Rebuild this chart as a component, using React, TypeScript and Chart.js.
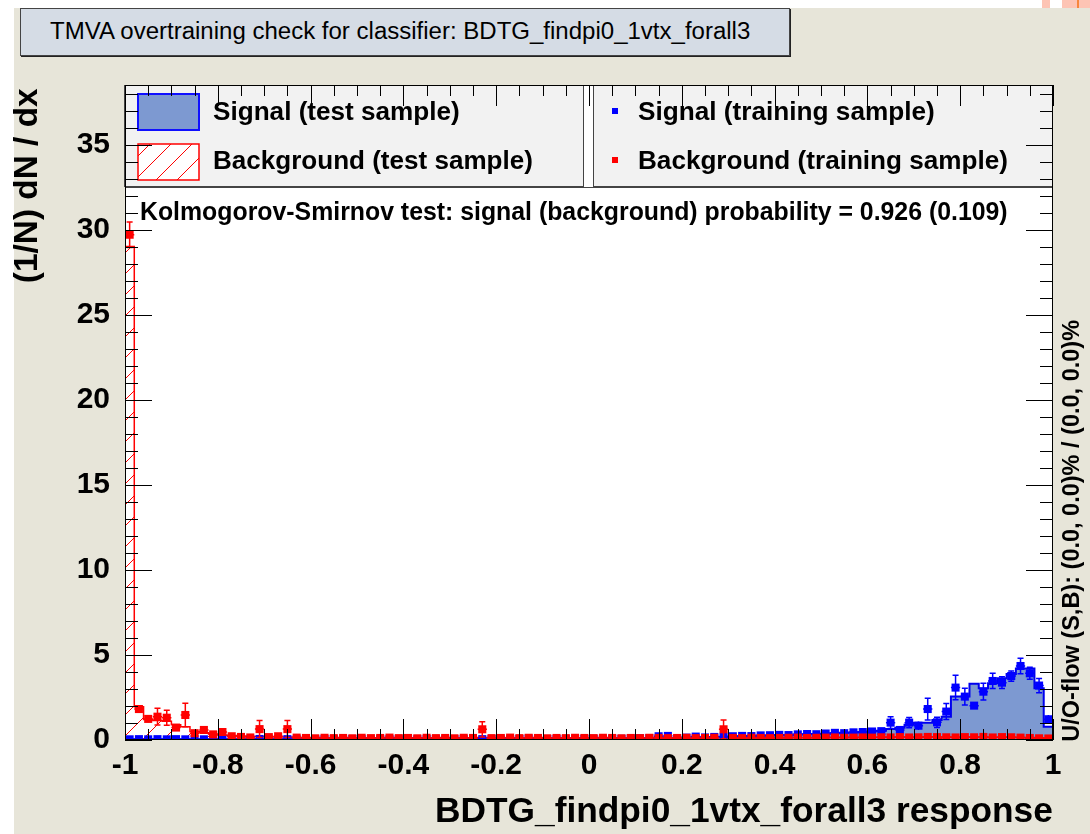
import React, { useEffect, useRef } from "react";
import { Chart, registerables } from "chart.js";

Chart.register(...registerables);

const FONT = '"Liberation Sans", Arial, Helvetica, sans-serif';

// ---------------- data ----------------
const BIN_START = -1;
const BIN_WIDTH = 0.02;
const X_MIN = -1;
const X_MAX = 1;
const Y_MIN = 0;
const Y_MAX = 38.5;

const X_TICK_VALUES = [-1, -0.8, -0.6, -0.4, -0.2, 0, 0.2, 0.4, 0.6, 0.8, 1];
const X_TICK_LABELS = ["-1", "-0.8", "-0.6", "-0.4", "-0.2", "0", "0.2", "0.4", "0.6", "0.8", "1"];
const Y_TICK_VALUES = [0, 5, 10, 15, 20, 25, 30, 35];
const Y_TICK_LABELS = ["0", "5", "10", "15", "20", "25", "30", "35"];

const TITLE = "TMVA overtraining check for classifier: BDTG_findpi0_1vtx_forall3";
const X_TITLE = "BDTG_findpi0_1vtx_forall3 response";
const Y_TITLE = "(1/N) dN / dx";
const KS_TEXT = "Kolmogorov-Smirnov test: signal (background) probability = 0.926 (0.109)";
const FLOW_TEXT = "U/O-flow (S,B): (0.0, 0.0)% / (0.0, 0.0)%";
const LEGEND_LABELS = [
  "Signal (test sample)",
  "Background (test sample)",
  "Signal (training sample)",
  "Background (training sample)",
];

// Signal (test sample) – filled histogram
const signalTest = [
  0.05, 0.04, 0.05, 0.04, 0.05, 0.04, 0.05, 0.05, 0.04, 0.05,
  0.04, 0.05, 0.04, 0.05, 0.05, 0.04, 0.05, 0.04, 0.05, 0.05,
  0.05, 0.04, 0.05, 0.05, 0.04, 0.05, 0.05, 0.04, 0.05, 0.05,
  0.05, 0.05, 0.04, 0.05, 0.05, 0.05, 0.04, 0.05, 0.05, 0.05,
  0.05, 0.05, 0.06, 0.05, 0.06, 0.06, 0.05, 0.06, 0.06, 0.07,
  0.06, 0.07, 0.07, 0.08, 0.08, 0.09, 0.10, 0.10, 0.11, 0.12,
  0.14, 0.15, 0.16, 0.18, 0.19, 0.21, 0.22, 0.24, 0.25, 0.27,
  0.29, 0.30, 0.32, 0.34, 0.35, 0.37, 0.39, 0.42, 0.44, 0.47,
  0.52, 0.55, 0.65, 0.72, 0.90, 1.02, 1.02, 1.18, 1.37, 2.55,
  2.55, 3.30, 3.04, 3.33, 3.63, 3.88, 4.20, 4.20, 3.04, 0.78,
];

// Background (test sample) – hatched histogram
const backgroundTest = [
  29.0, 1.95, 1.20, 1.15, 1.10, 0.90, 0.78, 0.50, 0.42, 0.35,
  0.30, 0.26, 0.23, 0.20, 0.20, 0.18, 0.17, 0.17, 0.15, 0.14,
  0.14, 0.13, 0.13, 0.14, 0.13, 0.12, 0.13, 0.13, 0.14, 0.13,
  0.13, 0.12, 0.13, 0.13, 0.14, 0.13, 0.13, 0.12, 0.14, 0.13,
  0.13, 0.13, 0.12, 0.13, 0.14, 0.13, 0.13, 0.12, 0.13, 0.13,
  0.13, 0.14, 0.13, 0.12, 0.13, 0.13, 0.13, 0.14, 0.13, 0.13,
  0.12, 0.13, 0.13, 0.14, 0.14, 0.13, 0.13, 0.13, 0.14, 0.14,
  0.14, 0.14, 0.14, 0.15, 0.15, 0.15, 0.15, 0.16, 0.16, 0.16,
  0.16, 0.16, 0.17, 0.17, 0.17, 0.17, 0.17, 0.17, 0.17, 0.17,
  0.17, 0.17, 0.17, 0.16, 0.16, 0.16, 0.15, 0.14, 0.13, 0.12,
];

// Signal (training sample) – points with errors
const signalTrain = [
  0.04, 0.05, 0.04, 0.05, 0.04, 0.05, 0.04, 0.05, 0.04, 0.05,
  0.05, 0.04, 0.05, 0.04, 0.06, 0.04, 0.05, 0.05, 0.04, 0.05,
  0.04, 0.05, 0.05, 0.04, 0.06, 0.05, 0.04, 0.05, 0.05, 0.04,
  0.05, 0.04, 0.05, 0.06, 0.04, 0.05, 0.05, 0.04, 0.05, 0.06,
  0.04, 0.05, 0.06, 0.09, 0.05, 0.06, 0.05, 0.06, 0.07, 0.06,
  0.07, 0.06, 0.08, 0.07, 0.09, 0.10, 0.11, 0.22, 0.24, 0.08,
  0.14, 0.20, 0.15, 0.18, 0.19, 0.22, 0.24, 0.23, 0.27, 0.28,
  0.30, 0.29, 0.33, 0.35, 0.34, 0.38, 0.42, 0.40, 0.45, 0.47,
  0.50, 0.52, 1.02, 0.59, 1.02, 0.84, 1.82, 1.04, 1.67, 3.08,
  2.55, 2.02, 2.84, 3.47, 3.37, 3.76, 4.35, 3.92, 3.20, 1.22,
];
const signalTrainErr = [
  0.03, 0.03, 0.03, 0.03, 0.03, 0.03, 0.03, 0.03, 0.03, 0.03,
  0.03, 0.03, 0.03, 0.03, 0.03, 0.03, 0.03, 0.03, 0.03, 0.03,
  0.03, 0.03, 0.03, 0.03, 0.03, 0.03, 0.03, 0.03, 0.03, 0.03,
  0.03, 0.03, 0.03, 0.03, 0.03, 0.03, 0.03, 0.03, 0.03, 0.03,
  0.03, 0.03, 0.03, 0.04, 0.03, 0.03, 0.03, 0.03, 0.04, 0.03,
  0.04, 0.04, 0.04, 0.04, 0.05, 0.05, 0.05, 0.07, 0.07, 0.04,
  0.05, 0.06, 0.05, 0.06, 0.06, 0.07, 0.07, 0.07, 0.08, 0.08,
  0.08, 0.08, 0.09, 0.09, 0.09, 0.10, 0.10, 0.10, 0.11, 0.11,
  0.11, 0.12, 0.34, 0.20, 0.30, 0.25, 0.64, 0.30, 0.47, 0.72,
  0.49, 0.20, 0.49, 0.45, 0.35, 0.30, 0.46, 0.35, 0.42, 0.25,
];

// Background (training sample) – points with errors
const backgroundTrain = [
  29.7, 1.82, 1.24, 1.37, 1.31, 0.73, 1.47, 0.40, 0.59, 0.33,
  0.47, 0.22, 0.18, 0.15, 0.64, 0.17, 0.22, 0.64, 0.14, 0.12,
  0.10, 0.13, 0.11, 0.12, 0.10, 0.13, 0.11, 0.12, 0.14, 0.11,
  0.12, 0.10, 0.13, 0.11, 0.12, 0.10, 0.13, 0.12, 0.63, 0.11,
  0.12, 0.14, 0.11, 0.13, 0.12, 0.10, 0.12, 0.11, 0.13, 0.12,
  0.11, 0.13, 0.12, 0.10, 0.12, 0.11, 0.13, 0.12, 0.11, 0.12,
  0.13, 0.11, 0.12, 0.13, 0.63, 0.12, 0.11, 0.13, 0.12, 0.11,
  0.12, 0.13, 0.14, 0.12, 0.13, 0.14, 0.15, 0.13, 0.14, 0.15,
  0.14, 0.16, 0.15, 0.17, 0.15, 0.16, 0.18, 0.17, 0.16, 0.15,
  0.17, 0.16, 0.18, 0.15, 0.17, 0.16, 0.14, 0.12, 0.10, 0.09,
];
const backgroundTrainErr = [
  0.75, 0.15, 0.20, 0.49, 0.44, 0.12, 0.69, 0.10, 0.15, 0.08,
  0.15, 0.05, 0.05, 0.05, 0.50, 0.05, 0.05, 0.50, 0.04, 0.04,
  0.04, 0.04, 0.04, 0.04, 0.04, 0.04, 0.04, 0.04, 0.04, 0.04,
  0.04, 0.04, 0.04, 0.04, 0.04, 0.04, 0.04, 0.04, 0.45, 0.04,
  0.04, 0.04, 0.04, 0.04, 0.04, 0.04, 0.04, 0.04, 0.04, 0.04,
  0.04, 0.04, 0.04, 0.04, 0.04, 0.04, 0.04, 0.04, 0.04, 0.04,
  0.04, 0.04, 0.04, 0.04, 0.55, 0.04, 0.04, 0.04, 0.04, 0.04,
  0.04, 0.04, 0.04, 0.04, 0.04, 0.04, 0.04, 0.04, 0.04, 0.04,
  0.04, 0.04, 0.04, 0.04, 0.04, 0.04, 0.04, 0.04, 0.04, 0.04,
  0.04, 0.04, 0.04, 0.04, 0.04, 0.04, 0.04, 0.04, 0.04, 0.04,
];

// ---------------- styles ----------------
const SIGNAL_FILL = "#7d99d1";
const SIGNAL_LINE = "#0000ee";
const BG_LINE = "#ff0000";
const BEIGE = "#e7e5d9";
const HATCH_SPACING = 21;
const MARKER_RADIUS = 5.7;

// ---------------- helpers ----------------
function histogramPoints(values: number[]) {
  const pts: { x: number; y: number }[] = [{ x: BIN_START, y: 0 }];
  values.forEach((v, i) => pts.push({ x: BIN_START + i * BIN_WIDTH, y: v }));
  pts.push({ x: BIN_START + values.length * BIN_WIDTH, y: values[values.length - 1] });
  pts.push({ x: BIN_START + values.length * BIN_WIDTH, y: 0 });
  return pts;
}
function centerPoints(values: number[]) {
  return values.map((v, i) => ({ x: BIN_START + (i + 0.5) * BIN_WIDTH, y: v }));
}

let measureCtx: CanvasRenderingContext2D | null = null;
function fitSize(text: string, weight: number, width: number) {
  if (!measureCtx) measureCtx = document.createElement("canvas").getContext("2d");
  if (!measureCtx) return 20;
  measureCtx.font = `${weight} 100px ${FONT}`;
  return (100 * width) / measureCtx.measureText(text).width;
}

// draws red "/" hatching inside the current clip
function strokeHatch(ctx: CanvasRenderingContext2D, w: number, h: number) {
  ctx.strokeStyle = BG_LINE;
  ctx.lineWidth = 1;
  ctx.beginPath();
  for (let x = -h; x < w + HATCH_SPACING; x += HATCH_SPACING) {
    ctx.moveTo(x, h);
    ctx.lineTo(x + h, 0);
  }
  ctx.stroke();
}

// ---------------- plugins ----------------
const backgroundPlugin = {
  id: "plotBackground",
  beforeDatasetsDraw(chart: any) {
    const { ctx, chartArea: a } = chart;
    ctx.save();
    ctx.fillStyle = "#ffffff";
    ctx.fillRect(a.left, a.top, a.right - a.left, a.bottom - a.top);
    ctx.restore();
  },
};

const hatchPlugin = {
  id: "histHatch",
  afterDatasetDraw(chart: any, args: any) {
    const ds = chart.data.datasets[args.index];
    if (!ds.hatchValues) return;
    const values: number[] = ds.hatchValues;
    const { ctx, chartArea: a } = chart;
    const xs = chart.scales.x;
    const ys = chart.scales.y;
    ctx.save();
    ctx.beginPath();
    ctx.rect(a.left, a.top, a.right - a.left, a.bottom - a.top);
    ctx.clip();
    ctx.beginPath();
    const y0 = ys.getPixelForValue(0);
    ctx.moveTo(xs.getPixelForValue(BIN_START), y0);
    values.forEach((v, i) => {
      const yv = ys.getPixelForValue(v);
      ctx.lineTo(xs.getPixelForValue(BIN_START + i * BIN_WIDTH), yv);
      ctx.lineTo(xs.getPixelForValue(BIN_START + (i + 1) * BIN_WIDTH), yv);
    });
    ctx.lineTo(xs.getPixelForValue(BIN_START + values.length * BIN_WIDTH), y0);
    ctx.closePath();
    ctx.clip();
    strokeHatch(ctx, chart.width, chart.height);
    ctx.restore();
  },
};

const errorBarPlugin = {
  id: "errorBars",
  afterDatasetDraw(chart: any, args: any) {
    const ds = chart.data.datasets[args.index];
    if (!ds.errY) return;
    const { ctx, chartArea: a } = chart;
    const xs = chart.scales.x;
    const ys = chart.scales.y;
    ctx.save();
    ctx.beginPath();
    ctx.rect(a.left, a.top, a.right - a.left, a.bottom - a.top);
    ctx.clip();
    ctx.strokeStyle = ds.errColor;
    ctx.lineWidth = 1.5;
    ctx.beginPath();
    ds.data.forEach((p: any, i: number) => {
      const e = ds.errY[i];
      const px = xs.getPixelForValue(p.x);
      const py = ys.getPixelForValue(p.y);
      const x0 = xs.getPixelForValue(p.x - BIN_WIDTH / 2);
      const x1 = xs.getPixelForValue(p.x + BIN_WIDTH / 2);
      const yt = ys.getPixelForValue(p.y + e);
      const yb = ys.getPixelForValue(Math.max(0, p.y - e));
      ctx.moveTo(x0, py);
      ctx.lineTo(x1, py);
      ctx.moveTo(px, yt);
      ctx.lineTo(px, yb);
      if (yb - yt > 9) {
        ctx.moveTo(px - 3, yt);
        ctx.lineTo(px + 3, yt);
        ctx.moveTo(px - 3, yb);
        ctx.lineTo(px + 3, yb);
      }
    });
    ctx.stroke();
    ctx.restore();
  },
};

const legendPlugin = {
  id: "rootLegend",
  afterDatasetsDraw(chart: any) {
    const { ctx, chartArea: a } = chart;
    ctx.save();
    // boxes
    ctx.fillStyle = "#f2f2f2";
    ctx.strokeStyle = "#444";
    ctx.lineWidth = 1;
    ctx.fillRect(a.left - 1, a.top, 459, 102);
    ctx.strokeRect(a.left - 0.5, a.top + 0.5, 459, 101);
    ctx.fillRect(a.left + 468, a.top, a.right - a.left - 468, 102);
    ctx.strokeRect(a.left + 468.5, a.top + 0.5, a.right - a.left - 469, 101);
    ctx.beginPath();
    ctx.moveTo(a.left, a.top + 102.5);
    ctx.lineTo(a.right, a.top + 102.5);
    ctx.stroke();
    // signal swatch
    ctx.fillStyle = SIGNAL_FILL;
    ctx.fillRect(a.left + 13, a.top + 9, 61, 36);
    ctx.strokeStyle = "#1010ff";
    ctx.lineWidth = 2;
    ctx.strokeRect(a.left + 13, a.top + 9, 61, 36);
    // background swatch
    ctx.fillStyle = "#ffffff";
    ctx.fillRect(a.left + 13, a.top + 59, 61, 36);
    ctx.save();
    ctx.beginPath();
    ctx.rect(a.left + 13, a.top + 59, 61, 36);
    ctx.clip();
    strokeHatch(ctx, chart.width, chart.height);
    ctx.restore();
    ctx.strokeStyle = BG_LINE;
    ctx.lineWidth = 1.5;
    ctx.strokeRect(a.left + 13, a.top + 59, 61, 36);
    // training markers
    ctx.fillStyle = "#0000ff";
    ctx.fillRect(a.left + 487, a.top + 23, 6, 6);
    ctx.fillStyle = BG_LINE;
    ctx.fillRect(a.left + 487, a.top + 72, 6, 6);
    ctx.restore();
  },
};

const framePlugin = {
  id: "rootFrame",
  afterDraw(chart: any) {
    const { ctx, chartArea: a } = chart;
    const xs = chart.scales.x;
    const ys = chart.scales.y;
    ctx.save();
    ctx.strokeStyle = "#000";
    ctx.lineWidth = 1;
    ctx.beginPath();
    for (let k = 0; k <= 40; k++) {
      const v = X_MIN + k * 0.05;
      const px = Math.round(xs.getPixelForValue(v)) + 0.5;
      const len = k % 4 === 0 ? 21 : 11;
      ctx.moveTo(px, a.bottom);
      ctx.lineTo(px, a.bottom - len);
      ctx.moveTo(px, a.top);
      ctx.lineTo(px, a.top + len);
    }
    for (let v = 0; v <= Math.floor(Y_MAX); v++) {
      const py = Math.round(ys.getPixelForValue(v)) + 0.5;
      const len = v % 5 === 0 ? 27 : 13;
      ctx.moveTo(a.left, py);
      ctx.lineTo(a.left + len, py);
      ctx.moveTo(a.right, py);
      ctx.lineTo(a.right - len, py);
    }
    ctx.stroke();
    ctx.strokeRect(a.left + 0.5, a.top + 0.5, a.right - a.left - 1, a.bottom - a.top - 1);
    ctx.restore();
  },
};

// ---------------- components ----------------
function Label(props: { text: string; weight: number; x0: number; x1: number; cy: number }) {
  const size = fitSize(props.text, props.weight, props.x1 - props.x0);
  return (
    <div
      style={{
        position: "absolute",
        left: props.x0,
        top: props.cy - 0.4885 * size,
        fontFamily: FONT,
        fontWeight: props.weight,
        fontSize: size,
        lineHeight: 1,
        whiteSpace: "nowrap",
        color: "#000",
      }}
    >
      {props.text}
    </div>
  );
}

function VLabel(props: { text: string; weight: number; y0: number; y1: number; cx: number }) {
  const len = props.y1 - props.y0;
  const size = fitSize(props.text, props.weight, len);
  const cy = (props.y0 + props.y1) / 2;
  return (
    <div
      style={{
        position: "absolute",
        left: props.cx - len / 2,
        top: cy - size / 2,
        width: len,
        height: size,
        fontFamily: FONT,
        fontWeight: props.weight,
        fontSize: size,
        lineHeight: 1,
        whiteSpace: "nowrap",
        color: "#000",
        transform: "rotate(-90deg)",
        transformOrigin: "50% 50%",
      }}
    >
      {props.text}
    </div>
  );
}

export default function App() {
  const canvasRef = useRef<HTMLCanvasElement | null>(null);

  useEffect(() => {
    const canvas = canvasRef.current;
    if (!canvas) return;
    const ctx = canvas.getContext("2d")!;

    const chart: any = new Chart(ctx, {
      type: "line",
      data: {
        datasets: [
          {
            type: "scatter",
            label: LEGEND_LABELS[3],
            data: centerPoints(backgroundTrain),
            pointStyle: "rect",
            pointRadius: MARKER_RADIUS,
            pointBorderWidth: 0,
            backgroundColor: BG_LINE,
            borderColor: BG_LINE,
            order: 0,
            errY: backgroundTrainErr,
            errColor: BG_LINE,
          } as any,
          {
            type: "scatter",
            label: LEGEND_LABELS[2],
            data: centerPoints(signalTrain),
            pointStyle: "rect",
            pointRadius: MARKER_RADIUS,
            pointBorderWidth: 0,
            backgroundColor: "#0000ff",
            borderColor: "#0000ff",
            order: 1,
            errY: signalTrainErr,
            errColor: "#0000ff",
          } as any,
          {
            type: "line",
            label: LEGEND_LABELS[1],
            data: histogramPoints(backgroundTest),
            stepped: true,
            fill: false,
            backgroundColor: "rgba(0,0,0,0)",
            borderColor: BG_LINE,
            borderWidth: 1.5,
            pointRadius: 0,
            tension: 0,
            order: 2,
            hatchValues: backgroundTest,
          } as any,
          {
            type: "line",
            label: LEGEND_LABELS[0],
            data: histogramPoints(signalTest),
            stepped: true,
            fill: "origin",
            backgroundColor: SIGNAL_FILL,
            borderColor: SIGNAL_LINE,
            borderWidth: 2,
            pointRadius: 0,
            tension: 0,
            order: 3,
          } as any,
        ],
      },
      options: {
        animation: false,
        responsive: false,
        maintainAspectRatio: false,
        devicePixelRatio: 1,
        layout: { padding: { left: 0, right: 37, top: 85, bottom: 0 } },
        plugins: {
          legend: { display: false },
          tooltip: { enabled: false },
          title: { display: false },
        },
        events: [],
        scales: {
          x: {
            type: "linear",
            min: X_MIN,
            max: X_MAX,
            grid: { display: false, drawTicks: false },
            border: { display: false },
            afterBuildTicks: (s: any) => {
              s.ticks = X_TICK_VALUES.map((v) => ({ value: v }));
            },
            afterFit: (s: any) => {
              s.height = 94;
            },
            ticks: {
              autoSkip: false,
              maxRotation: 0,
              minRotation: 0,
              padding: 8,
              color: "#000",
              font: { family: FONT, weight: "bold", size: 30 },
              callback: (_v: any, i: number) => X_TICK_LABELS[i],
            },
          },
          y: {
            type: "linear",
            min: Y_MIN,
            max: Y_MAX,
            grid: { display: false, drawTicks: false },
            border: { display: false },
            afterBuildTicks: (s: any) => {
              s.ticks = Y_TICK_VALUES.map((v) => ({ value: v }));
            },
            afterFit: (s: any) => {
              s.width = 125;
            },
            ticks: {
              autoSkip: false,
              padding: 15,
              color: "#000",
              font: { family: FONT, weight: "bold", size: 30 },
              callback: (_v: any, i: number) => Y_TICK_LABELS[i],
            },
          },
        },
      } as any,
      plugins: [backgroundPlugin, hatchPlugin, legendPlugin, errorBarPlugin, framePlugin],
    });

    return () => chart.destroy();
  }, []);

  return (
    <div
      style={{
        position: "fixed",
        left: 0,
        top: 0,
        width: 1090,
        height: 834,
        background: BEIGE,
        overflow: "hidden",
      }}
    >
      {/* white page strips */}
      <div style={{ position: "absolute", left: 0, top: 0, width: 1090, height: 8, background: "#fff" }} />
      <div style={{ position: "absolute", left: 0, top: 0, width: 14, height: 834, background: "#fff" }} />
      <div style={{ position: "absolute", left: 1042, top: 0, width: 8, height: 8, background: "#fdc4b4" }} />
      <div style={{ position: "absolute", left: 1062, top: 0, width: 28, height: 8, background: "#fdc4b4" }} />
      <div style={{ position: "absolute", left: 1077, top: 0, width: 2, height: 8, background: "#f7873c" }} />

      {/* title box */}
      <div
        style={{
          position: "absolute",
          left: 20,
          top: 8,
          width: 768,
          height: 46,
          background: "#d5dce5",
          border: "1px solid #444",
          boxShadow: "1px 1px 0 #222",
        }}
      />
      <Label text={TITLE} weight={400} x0={50} x1={752} cy={31} />

      <canvas ref={canvasRef} width={1090} height={834} style={{ position: "absolute", left: 0, top: 0 }} />

      <div style={{ position: "absolute", left: 0, top: 0, width: 1090, height: 834, pointerEvents: "none" }}>
        <Label text={LEGEND_LABELS[0]} weight={700} x0={213} x1={460} cy={111} />
        <Label text={LEGEND_LABELS[1]} weight={700} x0={213} x1={533} cy={160} />
        <Label text={LEGEND_LABELS[2]} weight={700} x0={638} x1={935} cy={111} />
        <Label text={LEGEND_LABELS[3]} weight={700} x0={638} x1={1008} cy={160} />
        <Label text={KS_TEXT} weight={700} x0={140} x1={1008} cy={212} />
        <Label text={X_TITLE} weight={700} x0={435} x1={1053} cy={809} />
        <VLabel text={Y_TITLE} weight={700} y0={88} y1={283} cx={25} />
        <VLabel text={FLOW_TEXT} weight={700} y0={320} y1={742} cx={1072} />
      </div>
    </div>
  );
}
